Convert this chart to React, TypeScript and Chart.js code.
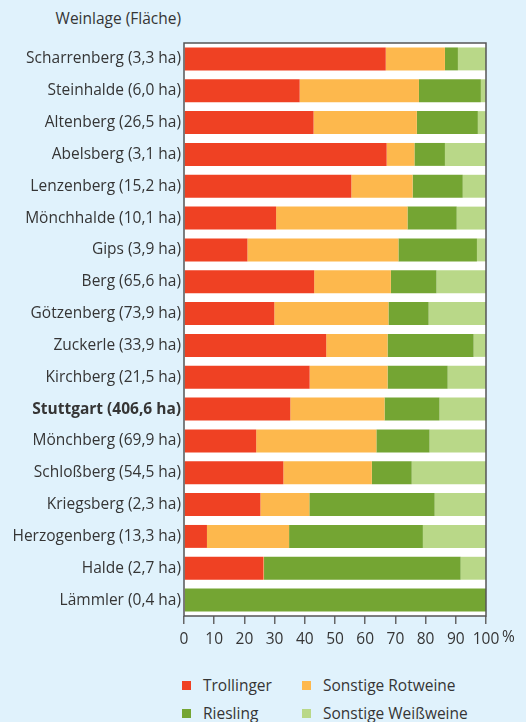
import React, { useEffect, useRef } from "react";
import { Chart, registerables } from "chart.js";

Chart.register(...registerables);

const categories = [
  "Scharrenberg (3,3 ha)",
  "Steinhalde (6,0 ha)",
  "Altenberg (26,5 ha)",
  "Abelsberg (3,1 ha)",
  "Lenzenberg (15,2 ha)",
  "Mönchhalde (10,1 ha)",
  "Gips (3,9 ha)",
  "Berg (65,6 ha)",
  "Götzenberg (73,9 ha)",
  "Zuckerle (33,9 ha)",
  "Kirchberg (21,5 ha)",
  "Stuttgart (406,6 ha)",
  "Mönchberg (69,9 ha)",
  "Schloßberg (54,5 ha)",
  "Kriegsberg (2,3 ha)",
  "Herzogenberg (13,3 ha)",
  "Halde (2,7 ha)",
  "Lämmler (0,4 ha)",
];

const trollinger = [66.8, 38.3, 42.9, 67.1, 55.4, 30.5, 21.0, 43.1, 29.9, 47.1, 41.6, 35.2, 23.9, 32.9, 25.3, 7.6, 26.3, 0.3];
const sonstigeRot = [19.6, 39.5, 34.2, 9.2, 20.3, 43.5, 50.0, 25.4, 37.8, 20.3, 25.8, 31.2, 39.8, 29.3, 16.2, 27.2, 0.2, 0];
const riesling = [4.3, 20.5, 20.2, 10.1, 16.6, 16.3, 26.0, 15.1, 13.3, 28.5, 19.9, 18.2, 17.6, 13.2, 41.5, 44.3, 65.1, 99.7];
const sonstigeWeiss = [9.3, 1.7, 2.7, 13.6, 7.7, 9.7, 3.0, 16.4, 19.0, 4.1, 12.7, 15.4, 18.7, 24.6, 17.0, 20.9, 8.4, 0];

const seriesNames = ["Trollinger", "Sonstige Rotweine", "Riesling", "Sonstige Weißweine"];
const xTicks = [0, 10, 20, 30, 40, 50, 60, 70, 80, 90, 100];
const titleText = "Weinlage (Fläche)";
const unitText = "%";
const boldIndex = 11;

const colors = ["#ef4123", "#fdb84d", "#74a533", "#b9d888"];
const BG = "#e0f2fc";
const TEXT = "#353535";
const FONT = "'Open Sans', sans-serif";
const FS = 15.5;

export default function App() {
  const ref = useRef<HTMLCanvasElement | null>(null);

  useEffect(() => {
    if (!ref.current) return;
    const frame = {
      id: "frame",
      beforeDatasetsDraw(chart: any) {
        const { ctx, chartArea: a } = chart;
        ctx.save();
        ctx.fillStyle = "#ffffff";
        ctx.fillRect(a.left, a.top, a.right - a.left, a.bottom - a.top);
        ctx.restore();
      },
      afterDatasetsDraw(chart: any) {
        const { ctx, chartArea: a } = chart;
        ctx.save();
        ctx.strokeStyle = "#555555";
        ctx.lineWidth = 1.5;
        ctx.strokeRect(a.left, a.top, a.right - a.left, a.bottom - a.top);
        ctx.restore();
      },
      afterDraw(chart: any) {
        const { ctx, chartArea: a } = chart;
        ctx.save();
        ctx.fillStyle = TEXT;
        ctx.font = FS + "px " + FONT;
        ctx.textAlign = "left";
        ctx.textBaseline = "top";
        ctx.fillText(unitText, a.right + 16, a.bottom + 8 + 6);
        ctx.restore();
      },
    };

    const chart = new Chart(ref.current, {
      type: "bar",
      data: {
        labels: categories,
        datasets: [trollinger, sonstigeRot, riesling, sonstigeWeiss].map((d, i) => ({
          label: seriesNames[i],
          data: d,
          backgroundColor: colors[i],
          borderWidth: 0,
          barPercentage: 0.72,
          categoryPercentage: 1,
        })),
      },
      options: {
        indexAxis: "y",
        responsive: false,
        animation: false,
        layout: { padding: { top: 43, left: 0, right: 40, bottom: 0 } },
        plugins: { legend: { display: false }, tooltip: { enabled: false } },
        scales: {
          x: {
            stacked: true,
            min: 0,
            max: 100,
            afterBuildTicks: (scale: any) => {
              scale.ticks = xTicks.map((v) => ({ value: v }));
            },
            afterFit: (scale: any) => {
              scale.height = 44;
            },
            grid: { display: true, drawOnChartArea: false, drawTicks: true, tickLength: 8, color: "#666666", lineWidth: 1.5 },
            border: { display: false },
            ticks: { color: TEXT, font: { family: FONT, size: FS }, padding: 6, maxRotation: 0, autoSkip: false },
          },
          y: {
            stacked: true,
            afterFit: (scale: any) => {
              scale.width = 184;
            },
            grid: { display: false, drawTicks: false },
            border: { display: false },
            ticks: {
              color: TEXT,
              padding: 3,
              autoSkip: false,
              font: (c: any) => ({ family: FONT, size: FS, weight: c.index === boldIndex ? "bold" : "normal" }),
            },
          },
        },
      },
      plugins: [frame],
    } as any);
    return () => chart.destroy();
  }, []);

  const legendItem = (i: number, x: number, y: number) => (
    <div key={i} style={{ position: "absolute", left: x, top: y, display: "flex", alignItems: "center" }}>
      <div style={{ width: 9, height: 9, background: colors[i], marginRight: 12 }} />
      <span style={{ fontFamily: FONT, fontSize: FS, color: TEXT, whiteSpace: "nowrap" }}>{seriesNames[i]}</span>
    </div>
  );

  return (
    <div style={{ position: "absolute", left: 0, top: 0, width: 526, height: 722, background: BG, overflow: "hidden" }}>
      <div
        style={{
          position: "absolute",
          right: 526 - 181,
          top: 7,
          fontFamily: FONT,
          fontSize: FS,
          color: TEXT,
          whiteSpace: "nowrap",
        }}
      >
        {titleText}
      </div>
      <canvas ref={ref} width={526} height={660} style={{ position: "absolute", left: 0, top: 0 }} />
      {legendItem(0, 182, 674)}
      {legendItem(1, 302, 674)}
      {legendItem(2, 182, 702)}
      {legendItem(3, 302, 702)}
    </div>
  );
}
